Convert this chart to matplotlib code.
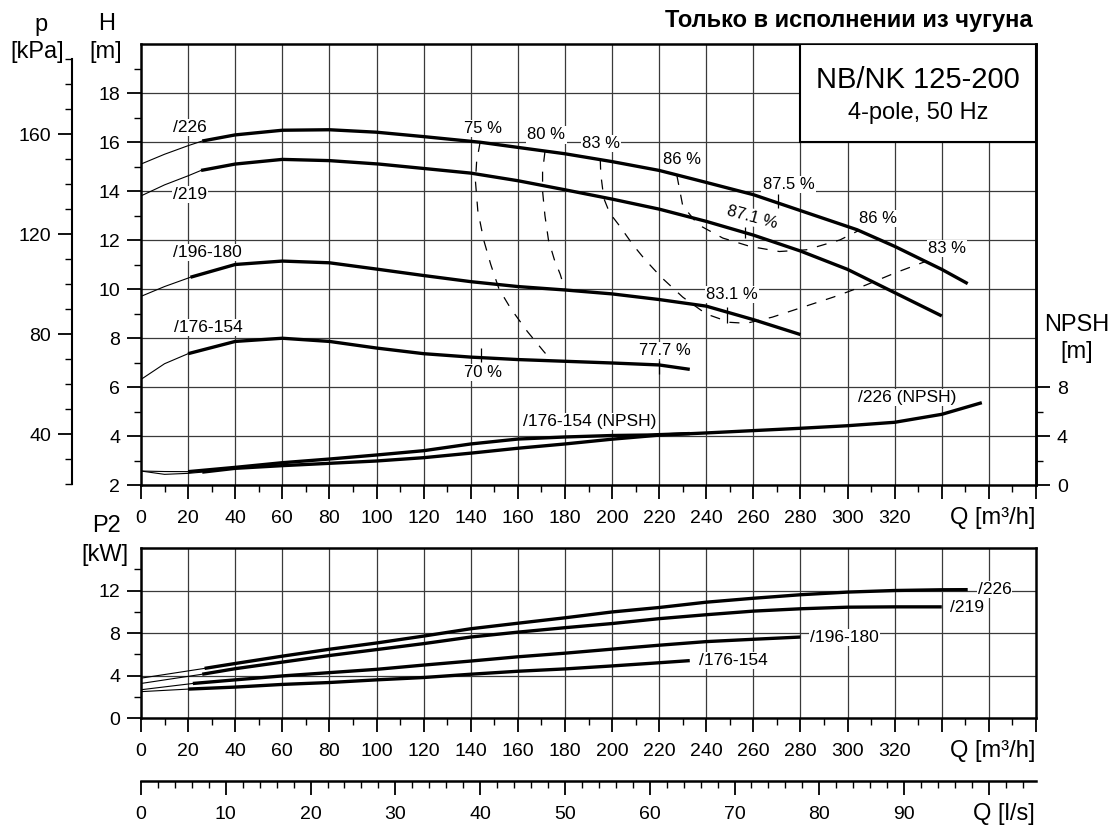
import numpy as np
import matplotlib
matplotlib.use("Agg")
import matplotlib.pyplot as plt
from matplotlib.patches import Rectangle
from matplotlib.ticker import FixedLocator, FuncFormatter

plt.rcParams['font.family'] = ['Liberation Sans', 'DejaVu Sans']

# ---- head curves H [m] vs Q [m3/h] (thin = extrapolated start, thick = operating range)
h226_thin_q = [0, 10, 20, 26]
h226_thin_h = [15.1, 15.5, 15.85, 16.04]
h226_q = [26, 40, 60, 80, 100, 120, 144, 160, 180, 200, 220, 240, 260, 280, 304, 320, 340, 351]
h226_h = [16.04, 16.29, 16.48, 16.5, 16.4, 16.22, 15.99, 15.78, 15.52, 15.2, 14.84, 14.35, 13.85, 13.2, 12.42, 11.74, 10.8, 10.22]

h219_thin_q = [0, 10, 20, 25.5]
h219_thin_h = [13.8, 14.25, 14.62, 14.84]
h219_q = [25.5, 40, 60, 80, 101, 120, 140, 160, 180, 200, 220, 240, 260, 280, 300, 320, 340]
h219_h = [14.84, 15.1, 15.29, 15.24, 15.1, 14.92, 14.73, 14.42, 14.05, 13.67, 13.26, 12.76, 12.2, 11.55, 10.8, 9.85, 8.9]

h196_thin_q = [0, 10, 21]
h196_thin_h = [9.7, 10.1, 10.48]
h196_q = [21, 40, 60, 80, 101, 120, 140, 160, 180, 200, 220, 240, 260, 280]
h196_h = [10.48, 11.0, 11.14, 11.07, 10.8, 10.55, 10.3, 10.1, 9.96, 9.8, 9.57, 9.3, 8.75, 8.14]

h176_thin_q = [0, 10, 20]
h176_thin_h = [6.31, 6.95, 7.36]
h176_q = [20, 40, 60, 80, 100, 120, 140, 160, 180, 200, 220, 233]
h176_h = [7.36, 7.86, 7.99, 7.86, 7.59, 7.36, 7.22, 7.12, 7.05, 6.98, 6.9, 6.72]

# ---- NPSH [m]
npsh226_thin_q = [0, 10, 20, 26]
npsh226_thin_v = [1.14, 0.87, 0.95, 1.05]
npsh226_q = [26, 40, 60, 80, 100, 120, 140, 160, 180, 200, 220, 240, 260, 280, 300, 320, 340, 357]
npsh226_v = [1.05, 1.36, 1.58, 1.77, 1.96, 2.23, 2.6, 3.0, 3.35, 3.74, 4.07, 4.25, 4.44, 4.63, 4.84, 5.12, 5.77, 6.72]

npsh176_thin_q = [0, 10, 20]
npsh176_thin_v = [1.14, 1.1, 1.09]
npsh176_q = [20, 40, 60, 80, 100, 120, 140, 160, 180, 200, 215, 233]
npsh176_v = [1.09, 1.44, 1.82, 2.12, 2.45, 2.8, 3.35, 3.75, 3.92, 4.04, 4.08, 4.2]

# ---- power P2 [kW]
p226_thin_q = [0, 27]
p226_thin_v = [3.75, 4.67]
p226_q = [27, 40, 60, 80, 100, 120, 140, 160, 180, 200, 220, 240, 260, 280, 300, 320, 340, 351]
p226_v = [4.67, 5.13, 5.82, 6.47, 7.06, 7.71, 8.4, 8.92, 9.43, 9.98, 10.4, 10.9, 11.27, 11.6, 11.85, 12.0, 12.07, 12.08]

p219_thin_q = [0, 26]
p219_thin_v = [3.25, 4.12]
p219_q = [26, 40, 60, 80, 100, 120, 140, 160, 180, 200, 220, 240, 260, 280, 300, 320, 340]
p219_v = [4.12, 4.64, 5.26, 5.88, 6.44, 7.0, 7.62, 8.08, 8.5, 8.89, 9.35, 9.72, 10.06, 10.28, 10.43, 10.46, 10.46]

p196_thin_q = [0, 22]
p196_thin_v = [2.66, 3.25]
p196_q = [22, 40, 60, 80, 100, 120, 140, 160, 180, 200, 220, 240, 260, 280]
p196_v = [3.25, 3.59, 3.96, 4.27, 4.58, 4.98, 5.36, 5.76, 6.1, 6.48, 6.85, 7.19, 7.41, 7.62]

p176_thin_q = [0, 20]
p176_thin_v = [2.48, 2.72]
p176_q = [20, 40, 60, 80, 100, 120, 140, 160, 180, 200, 220, 233]
p176_v = [2.72, 2.91, 3.16, 3.34, 3.59, 3.81, 4.12, 4.4, 4.62, 4.9, 5.2, 5.4]

# ---- iso-efficiency lines (dashed)
eff75_q = [144, 142.5, 142, 143, 145.5, 148.5, 152, 157, 164, 171, 174]
eff75_h = [16.0, 15.2, 14.4, 13.2, 12.0, 11.0, 10.0, 9.2, 8.27, 7.45, 7.12]
eff80_q = [171.5, 170.5, 170.5, 171.5, 173, 175.5, 178, 180]
eff80_h = [15.6, 14.8, 14.0, 13.0, 12.0, 11.2, 10.6, 9.96]
eff83_q = [195, 195.2, 196.5, 199, 203, 208.9, 214, 221, 230, 240, 250, 257, 268, 281, 294, 300, 308, 320, 333]
eff83_h = [15.28, 14.7, 13.7, 13.1, 12.6, 11.8, 11.2, 10.47, 9.67, 8.98, 8.64, 8.6, 8.85, 9.26, 9.67, 9.88, 10.17, 10.65, 11.12]
eff86_q = [227.5, 230, 236.5, 247, 258.5, 271, 282.5, 296.7, 305]
eff86_h = [14.65, 13.4, 12.63, 12.08, 11.74, 11.53, 11.6, 12.0, 12.4]

# short marks on curves
mark_q = [144.4, 220, 249, 256.4, 270.5]
mark_h0 = [7.04, 6.52, 8.62, 12.08, 13.32]
mark_h1 = [7.59, 7.06, 9.25, 12.53, 13.87]

# efficiency labels
eff_text = ["75 %", "80 %", "83 %", "86 %", "87.5 %", "87.1 %", "86 %", "83 %", "83.1 %", "77.7 %", "70 %"]
eff_tq = [145.4, 172.1, 195.3, 229.9, 274.9, 259.3, 313.1, 342.1, 250.8, 222.5, 145.4]
eff_th = [16.56, 16.29, 15.95, 15.29, 14.27, 12.93, 12.89, 11.66, 9.78, 7.48, 6.58]
eff_rot = [0, 0, 0, 0, 0, -15, 0, 0, 0, 0, 0]

# curve labels
head_lbl = ["/226", "/219", "/196-180", "/176-154", "/176-154 (NPSH)", "/226 (NPSH)"]
head_lq = [13.7, 13.7, 13.7, 14, 162, 304.5]
head_lh = [16.58, 13.84, 11.5, 8.42, 4.58, 5.59]
pow_lbl = ["/226", "/219", "/196-180", "/176-154"]
pow_lq = [355.2, 343.5, 284, 236.9]
pow_lp = [12.1, 10.43, 7.56, 5.37]

W, HP = 1116, 830
fig = plt.figure(figsize=(W / 100, HP / 100), dpi=100)


def px_box(l, t, r, b):
    return [l / W, 1 - b / HP, (r - l) / W, (b - t) / HP]


ax = fig.add_axes(px_box(141, 44, 1036, 485))
ax2 = fig.add_axes(px_box(141, 548, 1036, 718))

GRID = '#3a3a3a'
SPW = 1.8
THICK = 2.4
THIN = 0.8
TICKFS = 14
AXFS = 17
lab_bbox = dict(facecolor='white', edgecolor='none', pad=0.8)

qfmt = FuncFormatter(lambda v, pos: f"{v:.0f}" if v <= 320 else "")

for a in (ax, ax2):
    a.set_xlim(0, 380)
    a.xaxis.set_major_locator(FixedLocator(np.arange(0, 381, 20)))
    a.xaxis.set_minor_locator(FixedLocator(np.arange(10, 380, 20)))
    a.xaxis.set_major_formatter(qfmt)
    for s in a.spines.values():
        s.set_linewidth(SPW)
    a.tick_params(which='major', direction='out', length=10, width=1.3, labelsize=TICKFS)
    a.tick_params(which='minor', direction='out', length=5, width=1.0)
    a.tick_params(axis='x', which='major', pad=8)
    a.tick_params(axis='y', which='major', pad=5)
    for gx in range(20, 380, 20):
        a.axvline(gx, color=GRID, lw=0.9, zorder=1)

# ---- top panel: head
ax.set_ylim(2, 20)
ax.yaxis.set_major_locator(FixedLocator(np.arange(2, 19, 2)))
ax.yaxis.set_minor_locator(FixedLocator(np.arange(3, 20, 2)))
for gy in range(4, 20, 2):
    ax.axhline(gy, color=GRID, lw=0.9, zorder=1)

ax.add_patch(Rectangle((280, 16), 100, 4, facecolor='white', edgecolor='black', lw=1.5, zorder=4))
ax.text(330, 18.55, "NB/NK 125-200", ha='center', va='center', fontsize=21, zorder=5)
ax.text(330, 17.2, "4-pole, 50 Hz", ha='center', va='center', fontsize=17, zorder=5)

for tq, th, q, h in [(h226_thin_q, h226_thin_h, h226_q, h226_h),
                     (h219_thin_q, h219_thin_h, h219_q, h219_h),
                     (h196_thin_q, h196_thin_h, h196_q, h196_h),
                     (h176_thin_q, h176_thin_h, h176_q, h176_h)]:
    ax.plot(tq, th, color='black', lw=THIN, zorder=3)
    ax.plot(q, h, color='black', lw=THICK, zorder=3, solid_capstyle='butt')

for q, h in [(eff75_q, eff75_h), (eff80_q, eff80_h), (eff83_q, eff83_h), (eff86_q, eff86_h)]:
    ax.plot(q, h, color='black', lw=0.9, ls=(0, (8, 8)), zorder=2.5)
ax.vlines(mark_q, mark_h0, mark_h1, color='black', lw=0.9, zorder=3)

for t, q, h, r in zip(eff_text, eff_tq, eff_th, eff_rot):
    ax.text(q, h, t, ha='center', va='center', fontsize=12, rotation=r, bbox=lab_bbox, zorder=6)
for t, q, h in zip(head_lbl, head_lq, head_lh):
    ax.text(q, h, t, ha='left', va='center', fontsize=12.5, bbox=lab_bbox, zorder=6)

# ---- NPSH scale (right)
axn = ax.twinx()
axn.set_ylim(0, 36)
axn.yaxis.set_major_locator(FixedLocator([0, 4, 8]))
axn.yaxis.set_minor_locator(FixedLocator([2, 6]))
for s in axn.spines.values():
    s.set_visible(False)
axn.spines['right'].set_visible(True)
axn.spines['right'].set_linewidth(SPW)
axn.tick_params(which='major', direction='out', length=10, width=1.3, labelsize=TICKFS, pad=5)
axn.tick_params(which='minor', direction='out', length=5, width=1.0)
for tq, tv, q, v in [(npsh226_thin_q, npsh226_thin_v, npsh226_q, npsh226_v),
                     (npsh176_thin_q, npsh176_thin_v, npsh176_q, npsh176_v)]:
    axn.plot(tq, tv, color='black', lw=THIN, zorder=3)
    axn.plot(q, v, color='black', lw=THICK, zorder=3, solid_capstyle='butt')

# ---- pressure scale (left, kPa)
axp = ax.twinx()
axp.set_ylim(2 * 9.81, 20 * 9.81)
axp.yaxis.tick_left()
for s in axp.spines.values():
    s.set_visible(False)
axp.spines['left'].set_visible(True)
axp.spines['left'].set_position(('axes', (72 - 141) / 895))
axp.spines['left'].set_bounds(20, 190)
axp.spines['left'].set_linewidth(1.5)
axp.yaxis.set_major_locator(FixedLocator([40, 80, 120, 160]))
axp.yaxis.set_minor_locator(FixedLocator([v for v in range(20, 191, 10) if v % 40]))
axp.tick_params(which='major', direction='out', length=10, width=1.3, labelsize=TICKFS, pad=5)
axp.tick_params(which='minor', direction='out', length=5, width=1.0)

# ---- bottom panel: power
ax2.set_ylim(0, 16)
ax2.yaxis.set_major_locator(FixedLocator([0, 4, 8, 12]))
ax2.yaxis.set_minor_locator(FixedLocator([2, 6, 10, 14]))
for gy in (4, 8, 12):
    ax2.axhline(gy, color=GRID, lw=0.9, zorder=1)
for tq, tv, q, v in [(p226_thin_q, p226_thin_v, p226_q, p226_v),
                     (p219_thin_q, p219_thin_v, p219_q, p219_v),
                     (p196_thin_q, p196_thin_v, p196_q, p196_v),
                     (p176_thin_q, p176_thin_v, p176_q, p176_v)]:
    ax2.plot(tq, tv, color='black', lw=THIN, zorder=3)
    ax2.plot(q, v, color='black', lw=THICK, zorder=3, solid_capstyle='butt')
for t, q, v in zip(pow_lbl, pow_lq, pow_lp):
    ax2.text(q, v, t, ha='left', va='center', fontsize=12.5, bbox=lab_bbox, zorder=6)

# ---- l/s scale
sec = ax2.secondary_xaxis((718 - 781) / 170, functions=(lambda q: q / 3.6, lambda l: l * 3.6))
sec.xaxis.set_major_locator(FixedLocator(np.arange(0, 101, 10)))
sec.xaxis.set_minor_locator(FixedLocator([v for v in range(2, 106, 2) if v % 10]))
sec.xaxis.set_major_formatter(FuncFormatter(lambda v, pos: f"{v:.0f}" if v <= 90 else ""))
sec.spines['bottom'].set_linewidth(SPW)
sec.tick_params(which='major', direction='out', length=10, width=1.3, labelsize=TICKFS, pad=8)
sec.tick_params(which='minor', direction='out', length=5, width=1.0)

# ---- axis titles and heading
def ftext(x, y, s, **kw):
    fig.text(x / W, 1 - y / HP, s, **kw)


ftext(41, 25, "p", ha='center', va='center', fontsize=AXFS)
ftext(37, 52, "[kPa]", ha='center', va='center', fontsize=AXFS)
ftext(107, 24, "H", ha='center', va='center', fontsize=AXFS)
ftext(106, 52, "[m]", ha='center', va='center', fontsize=AXFS)
ftext(1077, 325, "NPSH", ha='center', va='center', fontsize=AXFS)
ftext(1077, 352, "[m]", ha='center', va='center', fontsize=AXFS)
ftext(106, 526, "P2", ha='center', va='center', fontsize=AXFS)
ftext(105, 555, "[kW]", ha='center', va='center', fontsize=AXFS)
ftext(1035, 518, "Q [m³/h]", ha='right', va='center', fontsize=AXFS)
ftext(1035, 751, "Q [m³/h]", ha='right', va='center', fontsize=AXFS)
ftext(1035, 814, "Q [l/s]", ha='right', va='center', fontsize=AXFS)
ftext(1033, 20, "Только в исполнении из чугуна", ha='right', va='center', fontsize=17, fontweight='bold')

fig.savefig("out.png", dpi=100)
